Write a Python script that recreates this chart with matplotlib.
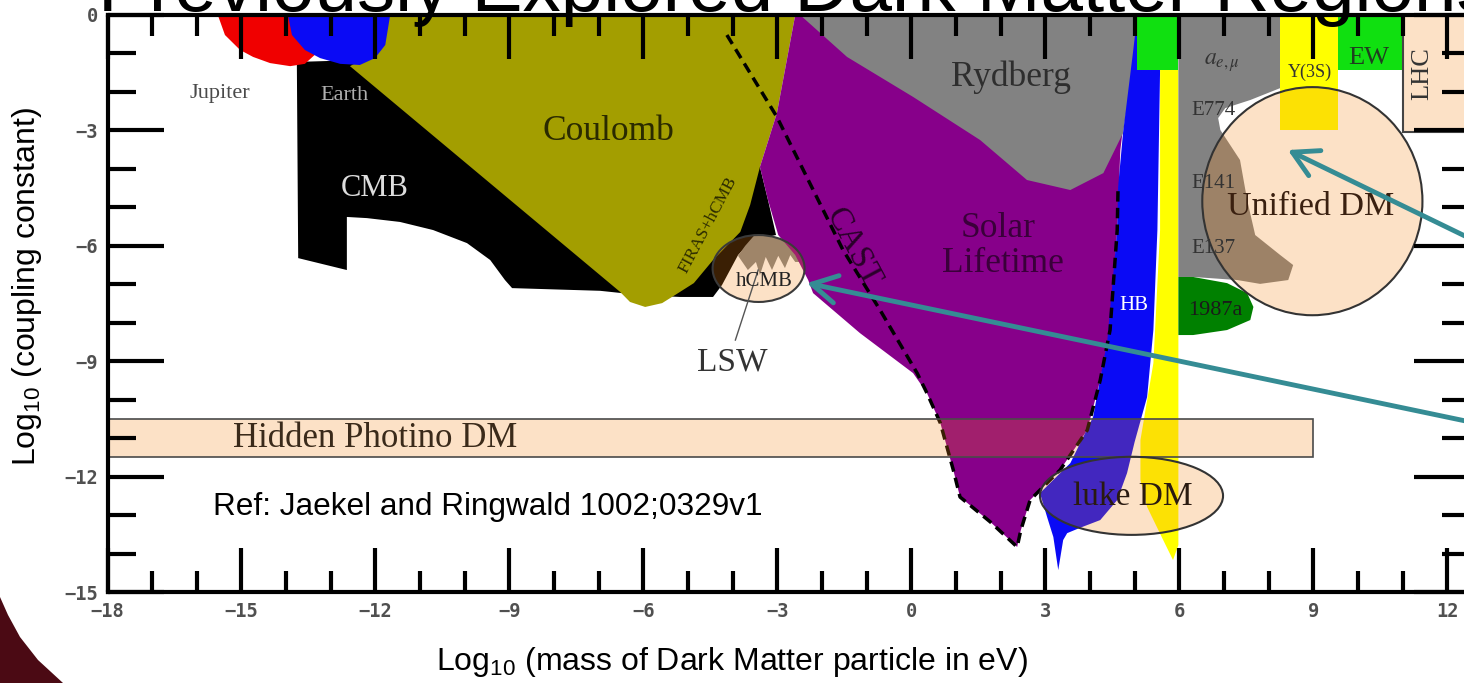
import matplotlib
matplotlib.use("Agg")
import matplotlib.pyplot as plt
import numpy as np
from matplotlib.patches import Polygon, Ellipse, Rectangle

# ---------------- data (log10 mass [eV], log10 coupling) ----------------
x_major = [-18, -15, -12, -9, -6, -3, 0, 3, 6, 9, 12]
y_major = [-15, -12, -9, -6, -3, 0]

jupiter_x = [-15.53, -15.37, -15.03, -14.74, -14.36, -13.91, -13.58, -13.24, -13.02]
jupiter_y = [0, -0.52, -0.91, -1.09, -1.25, -1.33, -1.27, -0.91, 0]

earth_x = [-13.96, -13.87, -13.58, -13.24, -12.79, -12.35, -12.01, -11.78, -11.67]
earth_y = [0, -0.52, -0.91, -1.12, -1.27, -1.30, -1.12, -0.78, 0]

cmb_x = [-13.76, -12.34, -3.39, -3.21, -3.03, -3.57, -3.88, -4.24, -4.44, -5.18, -6.07,
         -6.97, -8.94, -9.10, -9.43, -9.95, -10.71, -11.45, -12.19, -12.64, -12.64, -13.73]
cmb_y = [-1.22, -1.17, -3.95, -4.81, -5.72, -5.85, -6.24, -7.02, -7.33, -7.33, -7.28,
         -7.17, -7.10, -6.89, -6.37, -5.93, -5.59, -5.38, -5.28, -5.25, -6.63, -6.32]

coulomb_x = [-11.72, -11.78, -12.12, -12.57, -6.52, -6.30, -5.96, -5.58, -5.25, -4.87,
             -4.44, -3.83, -3.61, -3.39, -3.01, -2.60]
coulomb_y = [0, -0.65, -1.04, -1.33, -7.20, -7.46, -7.59, -7.49, -7.25, -6.97,
             -6.37, -5.64, -4.94, -3.95, -2.55, 0]

lsw_x = [-3.45, -2.27, -2.31, -2.60, -2.71, -2.83, -2.98, -3.12, -3.26, -3.39, -3.48,
         -3.66, -3.88, -3.72]
lsw_y = [-5.64, -5.72, -6.42, -6.42, -6.24, -6.58, -6.26, -6.63, -6.29, -6.76, -6.42,
         -6.63, -6.26, -6.00]

solar_x = [-2.60, -3.01, -3.39, -3.21, -2.98, -2.60, -2.31, -2.20, -1.15, 0.04, 0.35, 0.65,
           0.94, 1.09, 1.77, 2.37, 2.45, 2.66, 2.88, 3.33, 3.94, 4.23, 4.45, 4.61, 4.68,
           4.90, 5.06]
solar_y = [0, -2.55, -3.95, -4.81, -5.72, -6.24, -6.89, -7.23, -8.27, -9.31, -9.83, -10.61,
           -11.83, -12.53, -13.18, -13.83, -13.40, -12.61, -12.35, -11.83, -10.79, -9.49,
           -8.19, -5.59, -3.51, -1.43, 0]

cast_x = [-4.13, -3.01, -1.53, -0.70, 0.13, 0.35, 0.65, 0.94, 1.09, 1.77, 2.37, 2.45, 2.66,
          2.88, 3.33, 3.94, 4.23, 4.45, 4.61, 4.63]
cast_y = [-0.52, -2.65, -6.11, -7.67, -9.31, -9.83, -10.61, -11.83, -12.53, -13.18, -13.83,
          -13.40, -12.61, -12.35, -11.83, -10.79, -9.49, -8.19, -5.59, -4.42]

rydberg_x = [-2.49, -1.44, 0.04, 1.54, 2.59, 3.56, 4.30, 4.74, 4.97, 5.06, 5.06]
rydberg_y = [0, -1.09, -2.13, -3.25, -4.29, -4.55, -4.11, -3.07, -1.35, -0.65, 0]

hb_x = [5.06, 4.97, 4.74, 4.63, 4.61, 4.39, 4.07, 3.56, 2.88, 3.04, 3.18, 3.29, 3.40, 3.49,
        3.78, 4.23, 4.61, 4.83, 5.00, 5.28, 5.42, 5.51, 5.57, 5.57]
hb_y = [0, -0.91, -3.07, -4.47, -5.59, -8.45, -10.45, -11.65, -12.43, -13.05, -13.57,
        -14.43, -13.65, -13.47, -13.33, -13.13, -12.61, -11.91, -11.10, -9.93, -8.19,
        -5.59, -1.43, 0]

rg_x = [5.57, 5.57, 5.42, 5.13, 5.13, 5.28, 5.64, 5.86, 5.98, 5.98]
rg_y = [-1.43, -5.59, -9.05, -11.05, -12.09, -12.79, -13.65, -14.17, -13.78, -1.43]

hb_top_x = [5.06, 5.98]
hb_top_y = [-1.43, 0]

ae_x = [5.98, 8.26, 8.26, 7.59, 7.03, 6.87, 6.92, 7.36, 7.52, 7.70, 8.26, 8.55, 8.44,
        7.81, 7.30, 6.31, 5.98]
ae_y = [0, 0, -1.90, -2.21, -2.42, -2.68, -2.99, -3.77, -4.81, -5.72, -6.24, -6.50,
        -6.89, -6.99, -6.89, -6.81, -6.81]

sn_x = [5.98, 6.31, 7.07, 7.52, 7.66, 7.59, 7.07, 6.31, 5.98]
sn_y = [-6.81, -6.81, -6.97, -7.23, -7.59, -7.93, -8.19, -8.32, -8.32]

upsilon_x = [8.26, 9.56]
upsilon_y = [-2.99, 0]
ew_x = [9.56, 11.01]
ew_y = [-1.43, 0]
lhc_x = [11.01, 12.9]
lhc_y = [-3.04, 0]

photino_x = [-18, 9.0]
photino_y = [-11.5, -10.5]

hcmb_center, hcmb_w, hcmb_h = (-3.42, -6.59), 2.06, 1.74
unified_center, unified_w, unified_h = (8.98, -4.84), 4.93, 5.93
luke_center, luke_w, luke_h = (4.93, -12.50), 4.10, 2.03

lsw_line_x = [-3.94, -3.43]
lsw_line_y = [-8.45, -6.63]

arrow1_tip, arrow1_tail = (8.43, -3.51), (12.6, -5.86)
arrow2_tip, arrow2_tail = (-2.34, -6.97), (12.6, -10.6)

# ---------------- figure ----------------
W, H = 1464, 683
fig = plt.figure(figsize=(W / 100, H / 100), dpi=100, facecolor="white")
ax = fig.add_axes([107.5 / W, 91 / H, (1470 - 107.5) / W, 577 / H])
ax.set_xlim(-18, 12.51)
ax.set_ylim(-15, 0)
ax.set_facecolor("white")

SERIF = "Liberation Serif"
SANS = "Liberation Sans"
PEACH = (245 / 255, 133 / 255, 20 / 255, 0.24)


def poly(xs, ys, color, z=1, **kw):
    p = Polygon(np.column_stack([xs, ys]), closed=True, facecolor=color,
                edgecolor="none", zorder=z, **kw)
    ax.add_patch(p)
    return p


def rect(xs, ys, color, z=1, **kw):
    r = Rectangle((xs[0], ys[0]), xs[1] - xs[0], ys[1] - ys[0], facecolor=color,
                  zorder=z, **kw)
    ax.add_patch(r)
    return r


hcmb_ell = Ellipse(hcmb_center, hcmb_w, hcmb_h, facecolor=PEACH, edgecolor="#3a3a3a",
                   lw=1.5, zorder=1.6)
ax.add_patch(hcmb_ell)

poly(cmb_x, cmb_y, "#000000", 1.0)
poly(coulomb_x, coulomb_y, "#A39E00", 1.01)
lsw = poly(lsw_x, lsw_y, "#858585", 1.02)
lsw.set_clip_path(hcmb_ell)
poly(solar_x, solar_y, "#87008A", 1.03)
poly(rydberg_x, rydberg_y, "#828282", 1.04)
poly(hb_x, hb_y, "#0A0AF5", 1.05)
poly(rg_x, rg_y, "#FFFF00", 1.06)
rect(hb_top_x, hb_top_y, "#10E010", 1.07, edgecolor="none")
poly(ae_x, ae_y, "#828282", 1.08)
poly(sn_x, sn_y, "#008000", 1.09)
rect(upsilon_x, upsilon_y, "#FFFF00", 1.1, edgecolor="none")
rect(ew_x, ew_y, "#10E010", 1.1, edgecolor="none")
poly(jupiter_x, jupiter_y, "#F00000", 1.2)
poly(earth_x, earth_y, "#0A0AF5", 1.21)

ax.plot(cast_x, cast_y, color="black", lw=2.5, linestyle=(0, (3, 1.8)), zorder=1.3)

# translucent "dark matter" regions
rect(photino_x, photino_y, PEACH, 1.5, edgecolor="#4a4a4a", lw=1.2)
ax.add_patch(Ellipse(unified_center, unified_w, unified_h, facecolor=PEACH,
                     edgecolor="#333333", lw=1.5, zorder=1.5))
ax.add_patch(Ellipse(luke_center, luke_w, luke_h, facecolor=PEACH,
                     edgecolor="#333333", lw=1.5, zorder=1.5))
rect(lhc_x, lhc_y, PEACH, 1.5, edgecolor="#444444", lw=1.5)

ax.plot(lsw_line_x, lsw_line_y, color="#555555", lw=1.0, zorder=1.7)

# ---------------- region labels ----------------
def lab(x, y, s, size, color, **kw):
    kw.setdefault("family", SERIF)
    ax.text(x, y, s, fontsize=size, color=color, ha="center", va="center",
            zorder=3, **kw)


lab(-15.49, -2.03, "Jupiter", 16, "#4a4a4a")
lab(-12.70, -2.08, "Earth", 16, "#b0b0b0")
lab(-12.01, -4.50, "CMB", 22, "#dddddd")
lab(-6.79, -3.04, "Coulomb", 25.5, "#2a2a00")
lab(2.22, -1.61, "Rydberg", 25.5, "#2e2e2e")
lab(1.94, -5.54, "Solar", 25.5, "#3a003a")
lab(2.06, -6.45, "Lifetime", 25.5, "#3a003a")
lab(-1.30, -6.05, "CAST", 24, "#2a002a", rotation=-62)
lab(-4.55, -5.45, "FIRAS+hCMB", 12.5, "#2a2a00", rotation=62)
lab(-3.30, -6.94, "hCMB", 15, "#222222")
lab(-4.01, -9.02, "LSW", 24, "#333333")
lab(4.99, -7.54, "HB", 15, "#ffffff")
lab(6.96, -1.25, r"$a_{e,\mu}$", 17, "#333333", math_fontfamily="stix")
lab(6.76, -2.47, "E774", 15, "#333333")
lab(6.76, -4.37, "E141", 15, "#333333")
lab(6.76, -6.06, "E137", 15, "#333333")
lab(6.80, -7.67, "1987a", 16, "#1a1a1a")
lab(8.93, -1.48, "Υ(3S)", 13, "#333333")
lab(10.25, -1.12, "EW", 19, "#1f3f1f")
lab(11.44, -1.51, "LHC", 19, "#333333", rotation=90)
lab(8.93, -4.99, "Unified DM", 24.5, "#3a2010")
lab(4.97, -12.53, "luke DM", 24, "#2a1a10")
ax.text(-15.19, -11.0, "Hidden Photino DM", fontsize=25, color="#3a2a1a", family=SERIF,
        ha="left", va="center", zorder=3)
ax.text(-15.64, -12.79, "Ref: Jaekel and Ringwald 1002;0329v1", fontsize=22.7,
        color="black", family=SANS, ha="left", va="center", zorder=3)

# teal pointer arrows
TEAL = "#358C94"
for tip, tail in [(arrow1_tip, arrow1_tail), (arrow2_tip, arrow2_tail)]:
    ax.annotate("", xy=tip, xytext=tail, annotation_clip=False,
                arrowprops=dict(arrowstyle="->,head_length=0.9,head_width=0.5",
                                color=TEAL, lw=3.5, shrinkA=0, shrinkB=0,
                                mutation_scale=20), zorder=6)

# ---------------- axes styling ----------------
def fmt(v):
    return str(v).replace("-", "\u2212")


tick_kw = dict(fontfamily="DejaVu Sans Mono", fontweight="bold", fontsize=13.5,
               color="#505050")
ax.set_xticks(x_major, [fmt(v) for v in x_major], **tick_kw)
ax.set_yticks(y_major, [fmt(v) for v in y_major], **tick_kw)
ax.set_xticks(np.arange(-18, 13, 1), minor=True)
ax.set_yticks(np.arange(-15, 1, 1), minor=True)
ax.tick_params(which="both", direction="in", top=True, right=True, width=3,
               color="black", pad=7)
ax.tick_params(axis="x", which="major", length=32)
ax.tick_params(axis="x", which="minor", length=15)
ax.tick_params(axis="y", which="major", length=40)
ax.tick_params(axis="y", which="minor", length=20)
for s in ax.spines.values():
    s.set_linewidth(3)
    s.set_zorder(2.5)

# axis titles
fig.text(732 / W, 1 - 662 / H, r"Log$_{\mathregular{10}}$ (mass of Dark Matter particle in eV)",
         ha="center", va="center", fontsize=23, family=SANS)
fig.text(27 / W, 1 - 287 / H, r"Log$_{\mathregular{10}}$ (coupling constant)",
         ha="center", va="center", fontsize=23, family=SANS, rotation=90)

# slide title (mostly cropped off at the top)
fig.text(98 / W, 1 - 11 / H, "Previously Explored Dark Matter Regions",
         ha="left", va="baseline", fontsize=55, family=SANS, color="black", zorder=10)

# slide decoration in the lower-left corner
deco = Polygon([(0, 1 - 597 / H), (8 / W, 1 - 615 / H), (20 / W, 1 - 637 / H),
                (38 / W, 1 - 660 / H), (63 / W, 0), (0, 0)], closed=True,
               transform=fig.transFigure, facecolor="#4B0A14", edgecolor="none")
fig.patches.append(deco)

fig.savefig("out.png", dpi=100)
